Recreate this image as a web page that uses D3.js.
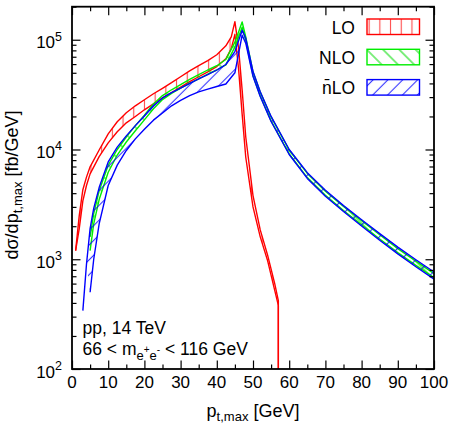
<!DOCTYPE html>
<html>
<head>
<meta charset="utf-8">
<script src="https://cdn.jsdelivr.net/npm/d3@7"></script>
<style>
  body { margin: 0; background: #fff; }
  text { font-family: "Liberation Sans", Arial, Helvetica, sans-serif; fill: #000; }
</style>
</head>
<body>
<div id="chart"></div>
<script>
// LO band (red)
var loX   = [1, 2, 3, 4, 5, 7.5, 10, 12.5, 15, 17.5, 20, 22.5, 25, 27.5, 30, 32.5, 35, 37.5, 40, 42.5, 44, 45, 46, 47, 48, 50, 52, 54, 56, 57, 57];
var loUp  = [1200, 2500, 4300, 5600, 6950, 9900, 13900, 17900, 21600, 25000, 28400, 32200, 36100, 40600, 46000, 52000, 58000, 64500, 73000, 88000, 106000, 146000, 85000, 35000, 13000, 3800, 1850, 1100, 600, 420, 1];
var loLow = [1200, 1900, 3400, 4700, 6000, 8600, 11500, 14500, 17500, 20000, 23000, 26000, 29500, 33000, 37000, 41500, 46000, 51000, 57000, 67000, 83000, 112000, 55000, 21000, 8500, 3000, 1600, 980, 520, 380, 1];

// NLO band (green)
var nloX   = [5, 6, 7.5, 10, 12.5, 15, 17.5, 20, 22.5, 25, 27.5, 30, 32.5, 35, 37.5, 40, 42.5, 45, 47, 48, 50, 52, 55, 60, 65, 70, 75, 80, 85, 90, 95, 100];
var nloUp  = [1600, 2600, 4200, 7200, 10000, 13000, 16500, 20500, 26000, 31000, 35000, 39000, 43500, 48000, 53000, 58000, 66000, 95000, 145000, 106000, 51000, 33300, 19800, 9900, 6050, 4170, 3020, 2240, 1670, 1250, 960, 740];
var nloLow = [1200, 2100, 3500, 6200, 8900, 11700, 14800, 18600, 23500, 28500, 32500, 36200, 40000, 44000, 48500, 53000, 59000, 86000, 130000, 98000, 47000, 30700, 18200, 9100, 5550, 3830, 2780, 2060, 1530, 1150, 880, 680];

// nLO band (blue)
var nnloX   = [3, 4, 5, 6, 7.5, 10, 12.5, 15, 17.5, 20, 22.5, 25, 27.5, 30, 32.5, 35, 37.5, 40, 42.5, 45, 47, 48, 50, 52, 55, 60, 65, 70, 75, 80, 85, 90, 95, 100];
var nnloUp  = [340, 900, 1900, 2900, 4500, 7700, 10500, 13300, 16500, 20200, 25000, 29500, 33000, 36200, 40000, 44000, 48000, 53000, 59500, 78000, 122000, 103000, 51500, 33600, 20000, 10000, 6150, 4250, 3080, 2290, 1710, 1290, 990, 765];
var nnloLow = [null, null, 500, 1000, 2100, 4700, 7200, 9800, 12500, 15300, 18500, 21500, 25000, 28000, 31000, 33500, 35500, 37500, 39500, 50000, 110000, 93000, 46500, 30400, 18000, 9000, 5450, 3750, 2720, 2010, 1490, 1120, 855, 660];

// ticks
var xMajor = [0, 10, 20, 30, 40, 50, 60, 70, 80, 90, 100];
var xMinor = [5, 15, 25, 35, 45, 55, 65, 75, 85, 95];
var yMajor = [1e2, 1e3, 1e4, 1e5];
var yMajorExp = ["2", "3", "4", "5"];

var legendNames = ["LO", "NLO", "n\u0304LO"];

var width = 453, height = 426;
var pLeft = 72, pRight = 434, pTop = 6.7, pBottom = 369;

var svg = d3.select("#chart").append("svg")
  .attr("width", width)
  .attr("height", height);

var xScale = d3.scaleLinear().domain([0, 100]).range([pLeft, pRight]);
var yScale = d3.scaleLog().domain([100, 2e5]).range([pBottom, pTop]);

// minor ticks on the log axis: 2..9 times each decade
var yMinor = [];
yMajor.forEach(function (m) {
  for (var k = 2; k <= 9; k++) {
    if (m * k <= 2e5) yMinor.push(m * k);
  }
});

var defs = svg.append("defs");
defs.append("clipPath").attr("id", "plotclip")
  .append("rect")
  .attr("x", pLeft).attr("y", pTop)
  .attr("width", pRight - pLeft).attr("height", pBottom - pTop);

// hatch patterns
function hatch(id, color, spacing, angle, opacity) {
  var p = defs.append("pattern")
    .attr("id", id)
    .attr("patternUnits", "userSpaceOnUse")
    .attr("width", spacing)
    .attr("height", spacing)
    .attr("patternTransform", "rotate(" + angle + ")");
  p.append("line")
    .attr("x1", spacing / 2).attr("x2", spacing / 2)
    .attr("y1", 0).attr("y2", spacing)
    .attr("stroke", color)
    .attr("stroke-opacity", opacity)
    .attr("stroke-width", 1.1);
}
hatch("hatchLO", "#ff0000", 10.7, 0, 0.7);
hatch("hatchNLO", "#00dd00", 11.5, -45, 0.9);
hatch("hatchNNLO", "#0000ff", 10.5, 45, 0.8);

var plot = svg.append("g").attr("clip-path", "url(#plotclip)");

function drawBand(xs, up, low, color, patternId) {
  var pts = xs.map(function (x, i) {
    return { x: x, u: up[i], l: low[i] };
  });
  var area = d3.area()
    .x(function (d) { return xScale(d.x); })
    .y0(function (d) { return yScale(d.l == null ? d.u : d.l); })
    .y1(function (d) { return yScale(d.u); });
  plot.append("path")
    .datum(pts)
    .attr("d", area)
    .attr("fill", "url(#" + patternId + ")");

  var lineUp = d3.line()
    .x(function (d) { return xScale(d.x); })
    .y(function (d) { return yScale(d.u); });
  var lineLow = d3.line()
    .defined(function (d) { return d.l != null; })
    .x(function (d) { return xScale(d.x); })
    .y(function (d) { return yScale(d.l); });

  [lineUp, lineLow].forEach(function (ln) {
    plot.append("path")
      .datum(pts)
      .attr("d", ln)
      .attr("fill", "none")
      .attr("stroke", color)
      .attr("stroke-width", 1.4)
      .attr("stroke-linejoin", "round");
  });
}

drawBand(loX, loUp, loLow, "#ff0000", "hatchLO");
drawBand(nloX, nloUp, nloLow, "#00ee00", "hatchNLO");
drawBand(nnloX, nnloUp, nnloLow, "#0000ff", "hatchNNLO");

// frame
svg.append("rect")
  .attr("x", pLeft).attr("y", pTop)
  .attr("width", pRight - pLeft).attr("height", pBottom - pTop)
  .attr("fill", "none")
  .attr("stroke", "#000")
  .attr("stroke-width", 1.8);

// ticks on all four sides, pointing inwards
function addTicks(axisFn, scale, values, size, transform) {
  svg.append("g")
    .attr("transform", transform)
    .call(axisFn(scale).tickValues(values).tickSize(-size).tickFormat(""))
    .call(function (g) { g.select(".domain").remove(); })
    .selectAll("line")
    .attr("stroke", "#000")
    .attr("stroke-width", 1.2);
}
addTicks(d3.axisBottom, xScale, xMajor, 8.5, "translate(0," + pBottom + ")");
addTicks(d3.axisBottom, xScale, xMinor, 4.5, "translate(0," + pBottom + ")");
addTicks(d3.axisTop, xScale, xMajor, 8.5, "translate(0," + pTop + ")");
addTicks(d3.axisTop, xScale, xMinor, 4.5, "translate(0," + pTop + ")");
addTicks(d3.axisLeft, yScale, yMajor, 8.5, "translate(" + pLeft + ",0)");
addTicks(d3.axisLeft, yScale, yMinor, 4.5, "translate(" + pLeft + ",0)");
addTicks(d3.axisRight, yScale, yMajor, 8.5, "translate(" + pRight + ",0)");
addTicks(d3.axisRight, yScale, yMinor, 4.5, "translate(" + pRight + ",0)");

// x tick labels
svg.selectAll(".xlab")
  .data(xMajor)
  .enter().append("text")
  .attr("class", "xlab")
  .attr("x", function (d) { return xScale(d); })
  .attr("y", pBottom + 18.5)
  .attr("text-anchor", "middle")
  .style("font-size", "17px")
  .text(function (d) { return d; });

// y tick labels 10^n
yMajor.forEach(function (v, i) {
  var t = svg.append("text")
    .attr("x", 62)
    .attr("y", yScale(v) + 8.5)
    .attr("text-anchor", "end")
    .style("font-size", "17px");
  t.append("tspan").text("10");
  t.append("tspan")
    .attr("dy", -7.5)
    .style("font-size", "12.5px")
    .text(yMajorExp[i]);
});

// axis titles
var xt = svg.append("text")
  .attr("x", 253)
  .attr("y", 417)
  .attr("text-anchor", "middle")
  .style("font-size", "18px");
xt.append("tspan").text("p");
xt.append("tspan").attr("dy", 4).style("font-size", "13px").text("t,max");
xt.append("tspan").attr("dy", -4).text(" [GeV]");

var yt = svg.append("text")
  .attr("transform", "translate(17.5,185) rotate(-90)")
  .attr("text-anchor", "middle")
  .style("font-size", "18px");
yt.append("tspan").text("d\u03c3/dp");
yt.append("tspan").attr("dy", 4).style("font-size", "13px").text("t,max");
yt.append("tspan").attr("dy", -4).text(" [fb/GeV]");

// annotations
svg.append("text")
  .attr("x", 82.5)
  .attr("y", 334)
  .style("font-size", "17.5px")
  .text("pp, 14 TeV");

var an = svg.append("text")
  .attr("x", 82.5)
  .attr("y", 355)
  .style("font-size", "17.5px");
an.append("tspan").text("66 < m");
an.append("tspan").attr("dy", 4.5).style("font-size", "13px").text("e");
an.append("tspan").attr("dy", -6.5).style("font-size", "10px").text("+");
an.append("tspan").attr("dy", 6.5).style("font-size", "13px").text("e");
an.append("tspan").attr("dy", -6.5).style("font-size", "10px").text("-");
an.append("tspan").attr("dy", 2).text(" < 116 GeV");

// legend
var legColors = ["#ff0000", "#00ee00", "#0000ff"];
var legPatterns = ["hatchLO", "hatchNLO", "hatchNNLO"];
legendNames.forEach(function (name, i) {
  var y0 = 19 + i * 30.3;
  svg.append("text")
    .attr("x", 355)
    .attr("y", y0 + 14.5)
    .attr("text-anchor", "end")
    .style("font-size", "17.5px")
    .text(name);
  svg.append("rect")
    .attr("x", 367)
    .attr("y", y0)
    .attr("width", 52.5)
    .attr("height", 15.5)
    .attr("fill", "url(#" + legPatterns[i] + ")")
    .attr("stroke", legColors[i])
    .attr("stroke-width", 1.4);
});
</script>
</body>
</html>
